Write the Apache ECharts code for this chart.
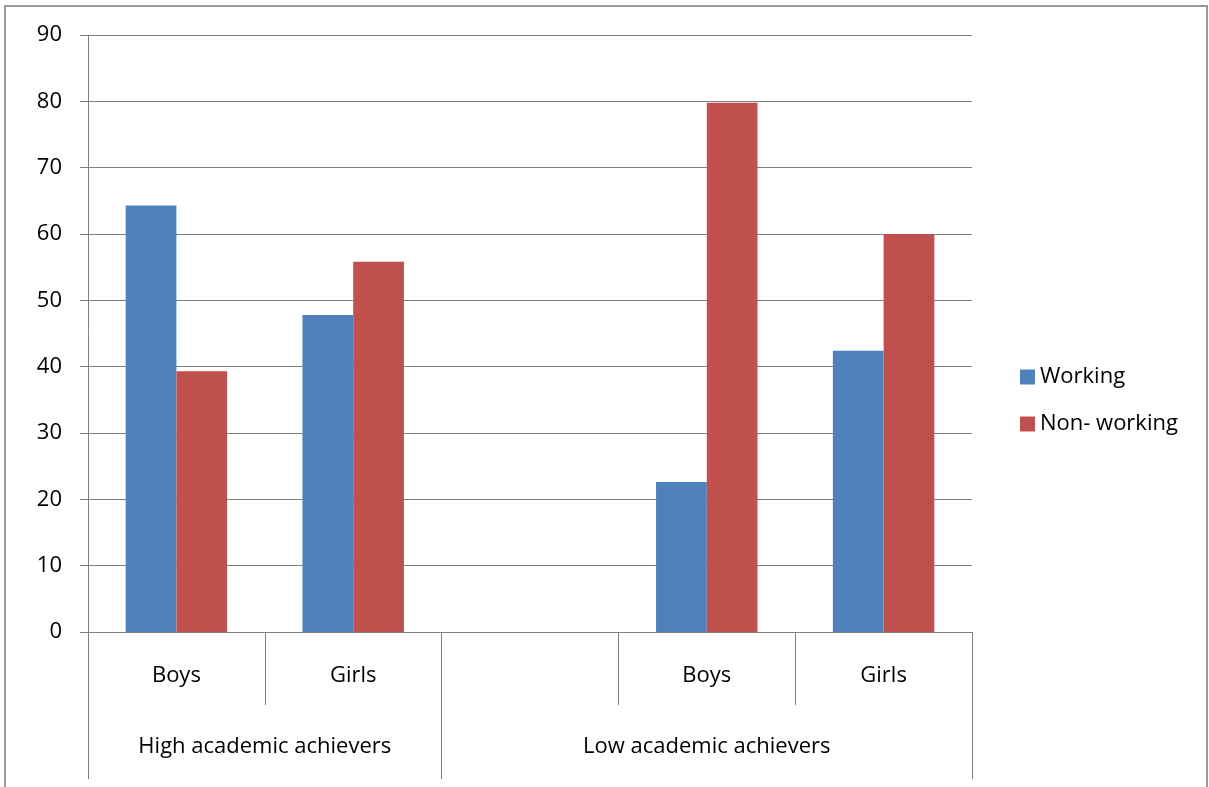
<!DOCTYPE html>
<html>
<head>
<meta charset="utf-8">
<script src="https://cdn.jsdelivr.net/npm/echarts@6/dist/echarts.min.js"></script>
<style>
  html, body { margin: 0; padding: 0; background: #fff; }
  #chart { width: 1209px; height: 787px; }
</style>
</head>
<body>
<div id="chart"></div>
<script>
// Sub-categories along the axis (one blank slot belongs to the second group)
const categories = ['Boys', 'Girls', '', 'Boys', 'Girls'];
// Outer groups and how many sub-categories each one spans
const groupNames = ['High academic achievers', 'Low academic achievers'];
const groupSpans = [2, 3];
// Series values
const working = [64.3, 47.8, null, 22.6, 42.4];
const nonWorking = [39.3, 55.8, null, 79.8, 60.0];
// Value axis ticks
const yTicks = [0, 10, 20, 30, 40, 50, 60, 70, 80, 90];

const FONT = 'Open Sans';
const FS = 22;
const GRAY = '#808080';

// Group boundaries and centres in category units
const groupEdges = [0];
groupSpans.forEach(s => groupEdges.push(groupEdges[groupEdges.length - 1] + s));
const groupCenters = groupSpans.map((s, i) => groupEdges[i] + s / 2);

const chart = echarts.init(document.getElementById('chart'), null, { renderer: 'canvas' });

chart.setOption({
  animation: false,
  backgroundColor: '#fff',
  textStyle: { fontFamily: FONT, color: '#000' },
  graphic: [{
    type: 'rect',
    shape: { x: 5, y: 6, width: 1202, height: 800 },
    style: { fill: 'none', stroke: '#9a9a9a', lineWidth: 2 },
    silent: true
  }],
  grid: { left: 88, right: 237, top: 35, bottom: 155, containLabel: false },
  legend: {
    orient: 'vertical',
    left: 1015,
    top: 361,
    itemWidth: 15,
    itemHeight: 15,
    itemGap: 25,
    icon: 'rect',
    textStyle: { fontFamily: FONT, fontSize: FS, color: '#000' },
    data: ['Working', 'Non- working']
  },
  xAxis: [
    {
      type: 'category',
      data: categories,
      position: 'bottom',
      axisLine: { show: true, lineStyle: { color: GRAY, width: 1 } },
      axisTick: { show: true, interval: 0, length: 73, lineStyle: { color: GRAY, width: 1 } },
      axisLabel: { interval: 0, margin: 33, fontFamily: FONT, fontSize: FS, color: '#000' },
      splitLine: { show: false }
    },
    {
      type: 'value',
      min: 0,
      max: groupEdges[groupEdges.length - 1],
      position: 'bottom',
      axisLine: { show: false },
      axisTick: { show: true, customValues: groupEdges, length: 147, lineStyle: { color: GRAY, width: 1 } },
      axisLabel: {
        customValues: groupCenters,
        margin: 104,
        fontFamily: FONT,
        fontSize: FS,
        color: '#000',
        formatter: function (v) {
          const i = groupCenters.indexOf(v);
          return i >= 0 ? groupNames[i] : '';
        }
      },
      splitLine: { show: false }
    }
  ],
  yAxis: {
    type: 'value',
    min: yTicks[0],
    max: yTicks[yTicks.length - 1],
    interval: yTicks[1] - yTicks[0],
    axisLine: { show: true, lineStyle: { color: GRAY, width: 1 } },
    axisTick: { show: true, length: 8, lineStyle: { color: GRAY, width: 1 } },
    axisLabel: { margin: 26, fontFamily: FONT, fontSize: FS, color: '#000' },
    splitLine: { show: true, lineStyle: { color: GRAY, width: 1 } }
  },
  series: [
    {
      name: 'Working',
      type: 'bar',
      xAxisIndex: 0,
      data: working,
      barGap: '0%',
      barCategoryGap: '42.6%',
      itemStyle: { color: '#4F81BD' }
    },
    {
      name: 'Non- working',
      type: 'bar',
      xAxisIndex: 0,
      data: nonWorking,
      barGap: '0%',
      barCategoryGap: '42.6%',
      itemStyle: { color: '#C0504D' }
    }
  ]
});
</script>
</body>
</html>
